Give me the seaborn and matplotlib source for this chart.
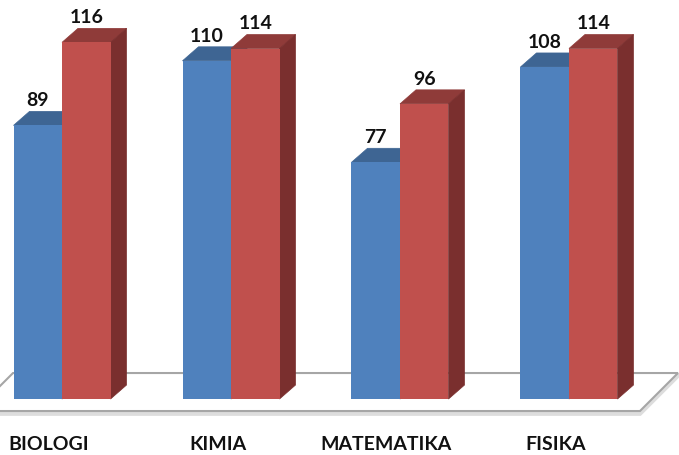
import numpy as np
import pandas as pd
import seaborn as sns
import matplotlib

matplotlib.use('Agg')
import matplotlib.pyplot as plt
from matplotlib.patches import Polygon

# data
subjects = ["BIOLOGI", "KIMIA", "MATEMATIKA", "FISIKA"]
series_names = ["Seri 1", "Seri 2"]
seri_1 = [89, 110, 77, 108]
seri_2 = [116, 114, 96, 114]

front_colors = ["#4F81BD", "#C0504D"]
top_colors = ["#3E6593", "#8F3B39"]
side_colors = ["#3A5F8A", "#7A2F2E"]

df = pd.DataFrame({
    "mapel": subjects * 2,
    "seri": [series_names[0]] * len(subjects) + [series_names[1]] * len(subjects),
    "nilai": seri_1 + seri_2,
})

sns.set_theme(style="white")
plt.rcParams['font.family'] = ['Lato', 'DejaVu Sans']

fig = plt.figure(figsize=(6.79, 4.56), dpi=100)
ax = fig.add_axes([0, 0, 1, 1])
sns.barplot(data=df, x="mapel", y="nilai", hue="seri", palette=front_colors,
            width=0.574, saturation=1, linewidth=0, legend=False, ax=ax)

ax.set_xlim(-0.367, 3.651)
ax.set_ylim(-18.2, 130.1)
ax.axis('off')

# ukuran 1 pixel dalam satuan data
px_x = 1 / 169
px_y = 1 / 3.075
dx = 16 * px_x
dy = 14 * px_y

# lantai 3D
floor = [(-0.29, 8.46), (3.645, 8.46), (3.42, -3.9), (-0.515, -3.9)]
shadow = [(x, y - 0.9) for x, y in floor]
ax.add_patch(Polygon(shadow, closed=True, facecolor='none', edgecolor='#DDDDDD', lw=3, zorder=0.9))
ax.add_patch(Polygon(floor, closed=True, facecolor='white', edgecolor='#A6A6A6', lw=1.5, zorder=1))

# sisi atas dan samping tiap batang
for i, bars in enumerate(ax.containers):
    for bar in bars:
        x0 = bar.get_x()
        w = bar.get_width()
        h = bar.get_height()
        z = 3 + i
        bar.set_zorder(z)
        top = [(x0, h), (x0 + dx, h + dy), (x0 + w + dx, h + dy), (x0 + w, h)]
        side = [(x0 + w, 0), (x0 + w + dx, dy), (x0 + w + dx, h + dy), (x0 + w, h)]
        ax.add_patch(Polygon(top, closed=True, facecolor=top_colors[i],
                             edgecolor=top_colors[i], lw=0.5, zorder=z - 0.1))
        ax.add_patch(Polygon(side, closed=True, facecolor=side_colors[i],
                             edgecolor=side_colors[i], lw=0.5, zorder=z - 0.1))
        ax.text(x0 + w / 2, h + dy + 2, f"{h:.0f}", ha='center', va='baseline',
                fontsize=14, fontweight='bold', color='#111111', zorder=10)

# label kategori
for i, name in enumerate(subjects):
    ax.text(i - 0.08, -14.6, name, ha='center', va='center',
            fontsize=14, fontweight='bold', color='#111111')

fig.savefig("out.png", dpi=100)
